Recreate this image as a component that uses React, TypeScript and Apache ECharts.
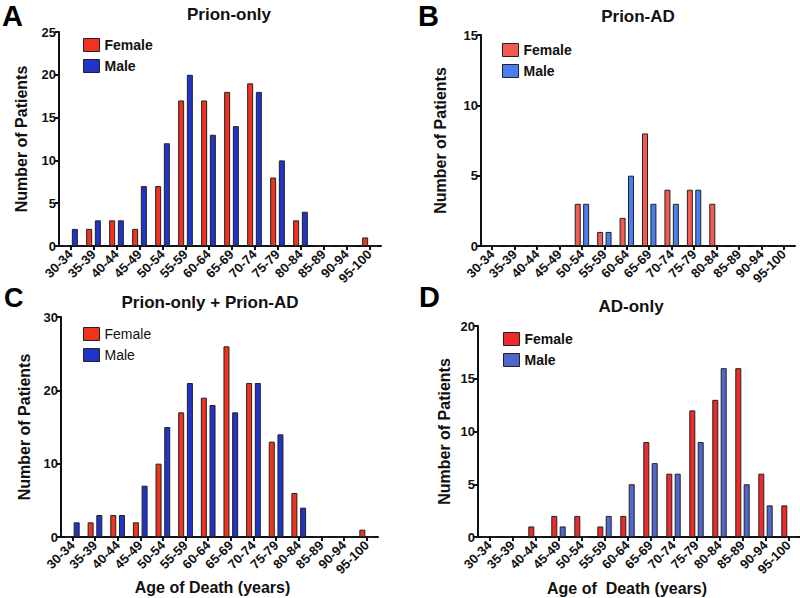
import React, { useEffect, useRef } from "react";
import * as echarts from "echarts";

const ageGroups = [
  "30-34", "35-39", "40-44", "45-49", "50-54", "55-59", "60-64",
  "65-69", "70-74", "75-79", "80-84", "85-89", "90-94", "95-100",
];

// A: Prion-only
const prionOnlyFemale = [0, 2, 3, 2, 7, 17, 17, 18, 19, 8, 3, 0, 0, 1];
const prionOnlyMale = [2, 3, 3, 7, 12, 20, 13, 14, 18, 10, 4, 0, 0, 0];
// B: Prion-AD
const prionADFemale = [0, 0, 0, 0, 3, 1, 2, 8, 4, 4, 3, 0, 0, 0];
const prionADMale = [0, 0, 0, 0, 3, 1, 5, 3, 3, 4, 0, 0, 0, 0];
// C: Prion-only + Prion-AD
const combinedFemale = [0, 2, 3, 2, 10, 17, 19, 26, 21, 13, 6, 0, 0, 1];
const combinedMale = [2, 3, 3, 7, 15, 21, 18, 17, 21, 14, 4, 0, 0, 0];
// D: AD-only
const adOnlyFemale = [0, 0, 1, 2, 2, 1, 2, 9, 6, 12, 13, 16, 6, 3];
const adOnlyMale = [0, 0, 0, 1, 0, 2, 5, 7, 6, 9, 16, 5, 3, 0];

const yTicks = [
  { max: 25, interval: 5 },
  { max: 15, interval: 5 },
  { max: 30, interval: 10 },
  { max: 20, interval: 5 },
];

const FONT = "'Liberation Sans', Arial, Helvetica, sans-serif";

const panels = [
  {
    letter: "A", title: "Prion-only", female: prionOnlyFemale, male: prionOnlyMale,
    fc: "#f0321e", mc: "#2035c8",
    grid: { left: 59, top: 32, width: 322, height: 214 },
    titleX: 229, titleTop: 6, letterX: 2, letterY: 1, letterSize: 29,
    legend: { left: 83, top: 38 }, legendBold: true,
    yNameGap: 30, xName: "", xNameGap: 0, xNamePad: 0, barGap: "45%",
  },
  {
    letter: "B", title: "Prion-AD", female: prionADFemale, male: prionADMale,
    fc: "#f25c50", mc: "#4a7dee",
    grid: { left: 481, top: 35, width: 314, height: 211 },
    titleX: 638, titleTop: 8, letterX: 418, letterY: 1, letterSize: 29,
    legend: { left: 502, top: 43 }, legendBold: true,
    yNameGap: 33, xName: "", xNameGap: 0, xNamePad: 0, barGap: "40%",
  },
  {
    letter: "C", title: "Prion-only + Prion-AD", female: combinedFemale, male: combinedMale,
    fc: "#f0321e", mc: "#2035c8",
    grid: { left: 61, top: 317, width: 317, height: 220 },
    titleX: 210, titleTop: 294, letterX: 4, letterY: 284, letterSize: 27,
    legend: { left: 83, top: 327 }, legendBold: false,
    yNameGap: 29, xName: "Age of Death (years)", xNameGap: 38, xNamePad: 14, barGap: "45%",
  },
  {
    letter: "D", title: "AD-only", female: adOnlyFemale, male: adOnlyMale,
    fc: "#ee2a2a", mc: "#5068cc",
    grid: { left: 478, top: 326, width: 326, height: 211 },
    titleX: 631, titleTop: 298, letterX: 419, letterY: 282, letterSize: 29,
    legend: { left: 503, top: 332 }, legendBold: true,
    yNameGap: 26, xName: "Age of  Death (years)", xNameGap: 43, xNamePad: 24, barGap: "40%",
  },
];

export default function App() {
  const ref = useRef<HTMLDivElement>(null);

  useEffect(() => {
    if (!ref.current) return;
    const chart = echarts.init(ref.current, null, { renderer: "svg" });

    const axisLine = { show: true, lineStyle: { color: "#111", width: 2 } };
    const axisTick = { show: true, length: 4, lineStyle: { color: "#111", width: 2 } };

    const option: any = {
      animation: false,
      backgroundColor: "#ffffff",
      textStyle: { fontFamily: FONT },
      title: panels.map((p) => ({
        text: p.title,
        left: p.titleX,
        top: p.titleTop,
        textAlign: "center",
        padding: 0,
        textStyle: { fontFamily: FONT, fontSize: 17, fontWeight: "bold", color: "#111" },
      })),
      grid: panels.map((p) => ({ ...p.grid, containLabel: false })),
      legend: panels.map((p) => ({
        left: p.legend.left,
        top: p.legend.top,
        orient: "vertical",
        itemWidth: 16,
        itemHeight: 13,
        itemGap: 7,
        padding: 0,
        selectedMode: false,
        icon: "rect",
        textStyle: {
          fontFamily: FONT,
          fontSize: 14,
          fontWeight: p.legendBold ? "bold" : "normal",
          color: "#111",
        },
        data: [
          { name: "Female", itemStyle: { color: p.fc, borderColor: "#222", borderWidth: 1 } },
          { name: "Male", itemStyle: { color: p.mc, borderColor: "#222", borderWidth: 1 } },
        ],
      })),
      xAxis: panels.map((p, i) => ({
        type: "category",
        gridIndex: i,
        data: ageGroups,
        boundaryGap: true,
        axisLine,
        axisTick: { ...axisTick, alignWithLabel: true },
        axisLabel: {
          rotate: 45,
          interval: 0,
          margin: 6,
          fontFamily: FONT,
          fontSize: 13,
          fontWeight: "bold",
          color: "#111",
        },
        splitLine: { show: false },
        name: p.xName,
        nameLocation: "middle",
        nameGap: p.xNameGap,
        nameTextStyle: {
          fontFamily: FONT,
          fontSize: 16,
          fontWeight: "bold",
          color: "#111",
          padding: [0, p.xNamePad, 0, 0],
        },
      })),
      yAxis: panels.map((p, i) => ({
        type: "value",
        gridIndex: i,
        min: 0,
        max: yTicks[i].max,
        interval: yTicks[i].interval,
        axisLine,
        axisTick,
        splitLine: { show: false },
        axisLabel: {
          margin: 3,
          fontFamily: FONT,
          fontSize: 13,
          fontWeight: "bold",
          color: "#111",
        },
        name: "Number of Patients",
        nameLocation: "middle",
        nameGap: p.yNameGap,
        nameTextStyle: { fontFamily: FONT, fontSize: 16, fontWeight: "bold", color: "#111" },
      })),
      series: panels.flatMap((p, i) => [
        {
          name: "Female",
          type: "bar",
          xAxisIndex: i,
          yAxisIndex: i,
          data: p.female,
          barWidth: 6,
          barGap: p.barGap,
          itemStyle: { color: p.fc, borderColor: "#222", borderWidth: 1 },
        },
        {
          name: "Male",
          type: "bar",
          xAxisIndex: i,
          yAxisIndex: i,
          data: p.male,
          barWidth: 6,
          barGap: p.barGap,
          itemStyle: { color: p.mc, borderColor: "#222", borderWidth: 1 },
        },
      ]),
      graphic: panels.map((p) => ({
        type: "text",
        left: p.letterX,
        top: p.letterY,
        style: {
          text: p.letter,
          fontFamily: FONT,
          fontSize: p.letterSize,
          fontWeight: "bold",
          fill: "#000",
        },
      })),
    };

    chart.setOption(option);
    return () => chart.dispose();
  }, []);

  return (
    <div
      ref={ref}
      style={{ position: "absolute", left: 0, top: 0, width: 800, height: 598 }}
    />
  );
}
